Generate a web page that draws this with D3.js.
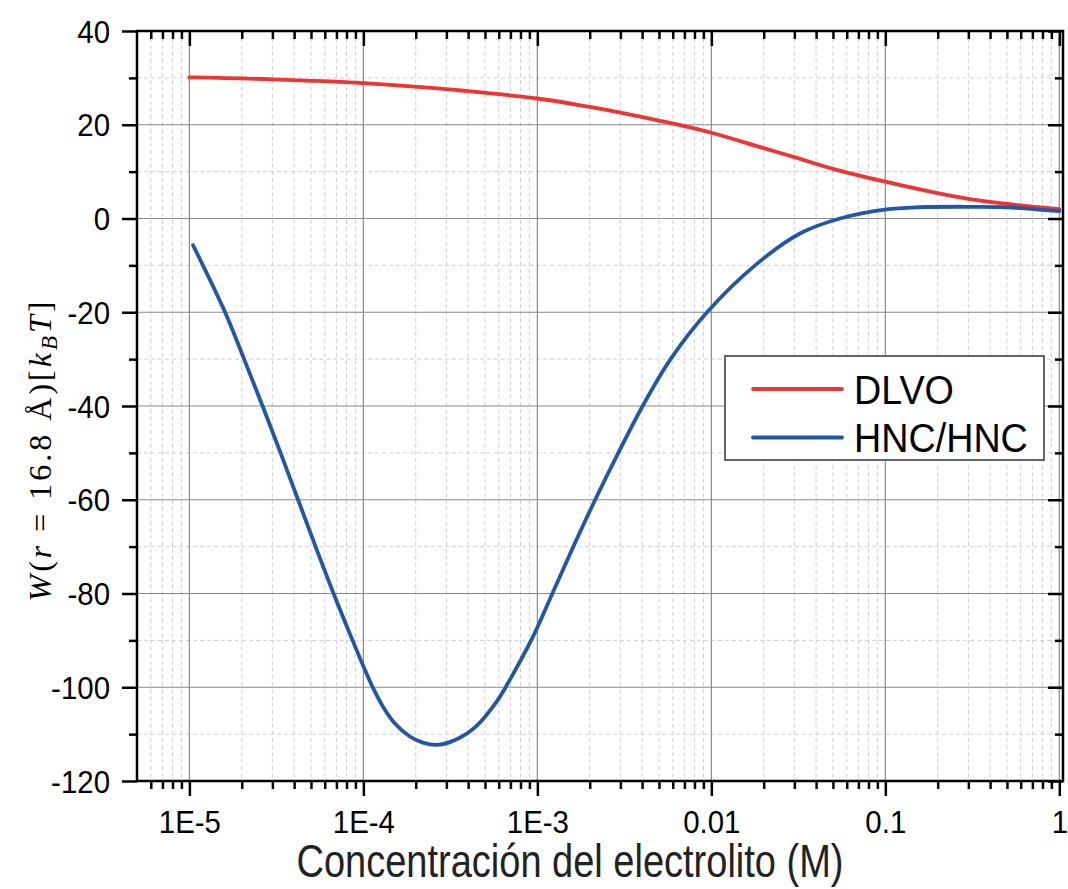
<html>
<script src="https://d3js.org/d3.v7.min.js"></script>
<style>
  body { margin: 0; background: #fff; }
  svg text { font-family: "Liberation Sans", Arial, sans-serif; }
</style>
<body>
<div id="chart_area"></div>
</body>
<script>

// DLVO curve
var dlvoConc = [1e-5, 3e-5, 1e-4, 3e-4, 1e-3, 2e-3, 3e-3, 5e-3, 0.01, 0.02, 0.03, 0.05, 0.1, 0.2, 0.3, 0.5, 1];
var dlvoW    = [30.1, 29.7, 28.9, 27.6, 25.6, 23.8, 22.6, 20.9, 18.3, 15.0, 13.1, 10.6, 7.85, 5.4, 4.2, 3.1, 2.0];

// HNC/HNC curve
var hncConc = [1.05e-5, 1.604e-5, 2.063e-5, 2.635e-5, 3.343e-5, 4.215e-5, 5.314e-5, 6.742e-5, 8.668e-5, 1e-4,
               1.122e-4, 1.3e-4, 1.5e-4, 1.85e-4, 2.2e-4, 2.64e-4, 3.2e-4, 3.93e-4, 4.49e-4, 5.85e-4,
               6.52e-4, 9.5e-4, 1.22e-3, 1.61e-3, 2.15e-3, 2.92e-3, 4.03e-3, 5.83e-3, 9.45e-3, 1.783e-2,
               3.23e-2, 5.48e-2, 0.0995, 0.158, 0.3, 0.5, 1];
var hncW    = [-5.7, -20, -30, -40, -50, -60, -70, -80, -90, -95.5,
               -99.7, -104.2, -107.5, -110.5, -111.8, -112.3, -111.6, -109.9, -108.2, -103.0,
               -100.2, -89, -80, -70, -60, -50, -40, -30, -20, -10,
               -3.2, 0, 1.9, 2.4, 2.5, 2.4, 1.6];

var seriesNames = ["DLVO", "HNC/HNC"];
var seriesColors = ["#ee3434", "#2257a6"];

var xMajor = [1e-5, 1e-4, 1e-3, 1e-2, 1e-1, 1];
var xMajorLabels = ["1E-5", "1E-4", "1E-3", "0.01", "0.1", "1"];
var yMajor = [-120, -100, -80, -60, -40, -20, 0, 20, 40];
var yMinor = [-110, -90, -70, -50, -30, -10, 10, 30];

var W = 1068, H = 889;
var pLeft = 137, pRight = 1063, pTop = 31, pBottom = 781;

var x = d3.scaleLog().domain([5e-6, 1.05]).range([pLeft, pRight]);
var y = d3.scaleLinear().domain([-120, 40]).range([pBottom, pTop]);

// minor ticks 2..9 per decade inside domain
var xMinor = [];
for (var e = -6; e <= 0; e++) {
    for (var m = 2; m <= 9; m++) {
        var v = m * Math.pow(10, e);
        if (v >= 5e-6 && v <= 1.05) xMinor.push(v);
    }
}

var svg = d3.select("#chart_area").append("svg").attr("width", W).attr("height", H);

// grid
var grid = svg.append("g");
grid.selectAll(".xminor").data(xMinor).enter().append("line")
    .attr("x1", d => x(d)).attr("x2", d => x(d)).attr("y1", pTop).attr("y2", pBottom)
    .attr("stroke", "#cfcfcf").attr("stroke-width", 1).attr("stroke-dasharray", "4,3");
grid.selectAll(".yminor").data(yMinor).enter().append("line")
    .attr("x1", pLeft).attr("x2", pRight).attr("y1", d => y(d)).attr("y2", d => y(d))
    .attr("stroke", "#cfcfcf").attr("stroke-width", 1).attr("stroke-dasharray", "4,3");
grid.selectAll(".xmajor").data(xMajor).enter().append("line")
    .attr("x1", d => x(d)).attr("x2", d => x(d)).attr("y1", pTop).attr("y2", pBottom)
    .attr("stroke", "#8a8a8a").attr("stroke-width", 1.2);
grid.selectAll(".ymajor").data(yMajor.slice(1, -1)).enter().append("line")
    .attr("x1", pLeft).attr("x2", pRight).attr("y1", d => y(d)).attr("y2", d => y(d))
    .attr("stroke", "#8a8a8a").attr("stroke-width", 1.2);

// curves
var line = d3.line().x(d => x(d[0])).y(d => y(d[1])).curve(d3.curveCatmullRom.alpha(0.5));
var curves = [d3.zip(dlvoConc, dlvoW), d3.zip(hncConc, hncW)];
svg.append("g").selectAll("path").data(curves).enter().append("path")
    .attr("d", line)
    .attr("fill", "none")
    .attr("stroke", (d, i) => seriesColors[i])
    .attr("stroke-width", 3.8)
    .attr("stroke-linejoin", "round")
    .attr("stroke-linecap", "round");

// axes
function styleAxis(g) {
    g.select(".domain").remove();
    g.selectAll(".tick line").attr("stroke", "#000").attr("stroke-width", 2.5);
}
var sx = 0.92;

svg.append("g").attr("transform", "translate(0," + pBottom + ")")
    .call(d3.axisBottom(x).tickValues(xMinor).tickSize(8).tickFormat(""))
    .call(styleAxis);
var bx = svg.append("g").attr("transform", "translate(0," + pBottom + ")")
    .call(d3.axisBottom(x).tickValues(xMajor).tickSize(15).tickPadding(14)
        .tickFormat((d, i) => xMajorLabels[i]))
    .call(styleAxis);
bx.selectAll("text").attr("font-size", 32).attr("fill", "#000")
    .attr("font-family", "Liberation Sans, Arial, sans-serif")
    .attr("transform", "scale(" + sx + ",1)");

svg.append("g").attr("transform", "translate(0," + pTop + ")")
    .call(d3.axisTop(x).tickValues(xMinor).tickSize(-8).tickFormat(""))
    .call(styleAxis);
svg.append("g").attr("transform", "translate(0," + pTop + ")")
    .call(d3.axisTop(x).tickValues(xMajor).tickSize(-15).tickFormat(""))
    .call(styleAxis);

svg.append("g").attr("transform", "translate(" + pLeft + ",0)")
    .call(d3.axisLeft(y).tickValues(yMinor).tickSize(8).tickFormat(""))
    .call(styleAxis);
var ly = svg.append("g").attr("transform", "translate(" + pLeft + ",0)")
    .call(d3.axisLeft(y).tickValues(yMajor).tickSize(15).tickPadding(12).tickFormat(d => String(d)))
    .call(styleAxis);
ly.selectAll("text").attr("font-size", 32).attr("fill", "#000")
    .attr("font-family", "Liberation Sans, Arial, sans-serif")
    .attr("x", -27 / sx).attr("dy", "0.35em")
    .attr("transform", "scale(" + sx + ",1)");

svg.append("g").attr("transform", "translate(" + pRight + ",0)")
    .call(d3.axisRight(y).tickValues(yMinor).tickSize(-8).tickFormat(""))
    .call(styleAxis);
svg.append("g").attr("transform", "translate(" + pRight + ",0)")
    .call(d3.axisRight(y).tickValues(yMajor).tickSize(-15).tickFormat(""))
    .call(styleAxis);

// frame
svg.append("rect").attr("x", pLeft).attr("y", pTop)
    .attr("width", pRight - pLeft).attr("height", pBottom - pTop)
    .attr("fill", "none").attr("stroke", "#000").attr("stroke-width", 2.5);

// x title
svg.append("text").attr("x", 570).attr("y", 877)
    .attr("text-anchor", "middle").attr("font-size", 46).attr("fill", "#222")
    .attr("textLength", 547).attr("lengthAdjust", "spacingAndGlyphs")
    .text("Concentración del electrolito (M)");

// y title
var yt = svg.append("text")
    .attr("transform", "translate(51,450) rotate(-90)")
    .attr("text-anchor", "middle")
    .attr("font-size", 32)
    .attr("letter-spacing", 3)
    .style("font-family", "'Liberation Serif', 'DejaVu Serif', serif")
    .attr("fill", "#000");
yt.append("tspan").attr("font-style", "italic").text("W");
yt.append("tspan").text("(");
yt.append("tspan").attr("font-style", "italic").text("r");
yt.append("tspan").text(" = 16.8 Å)");
yt.append("tspan").text("[");
yt.append("tspan").attr("font-style", "italic").text("k");
yt.append("tspan").attr("font-style", "italic").attr("font-size", 23).attr("dy", 6).text("B");
yt.append("tspan").attr("font-style", "italic").attr("dy", -6).text("T");
yt.append("tspan").text("]");

// legend
var legend = svg.append("g");
legend.append("rect").attr("x", 725).attr("y", 356).attr("width", 319).attr("height", 104)
    .attr("fill", "#fff").attr("stroke", "#555").attr("stroke-width", 1.8);
var legY = [389, 437.5];
var items = legend.selectAll(".item").data(seriesNames).enter().append("g");
items.append("line")
    .attr("x1", 753).attr("x2", 842)
    .attr("y1", (d, i) => legY[i]).attr("y2", (d, i) => legY[i])
    .attr("stroke", (d, i) => seriesColors[i]).attr("stroke-width", 3.8)
    .attr("stroke-linecap", "round");
items.append("text")
    .attr("transform", (d, i) => "translate(854," + (legY[i] + 14.5) + ") scale(" + sx + ",1)")
    .attr("font-size", 41).attr("fill", "#000")
    .text(d => d);

</script>
</html>
